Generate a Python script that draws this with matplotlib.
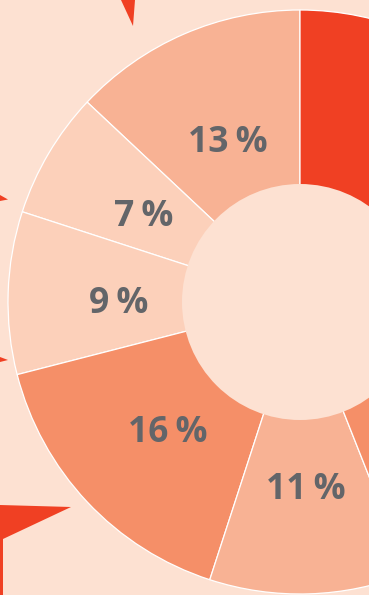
import matplotlib
matplotlib.use("Agg")
import matplotlib.pyplot as plt
from matplotlib.patches import Circle, Polygon
import numpy as np

# Share of each segment (counter-clockwise from 12 o'clock)
shares = [13, 7, 9, 16, 11, 18, 26]
labels = ["13\u2009%", "7\u2009%", "9\u2009%", "16\u2009%", "11\u2009%", "", ""]
colors = ["#f8b294", "#fcd0ba", "#fcd0ba", "#f58f68", "#f8b294", "#f58f68", "#f04023"]

BG = "#fde1d2"
RED = "#f04023"
TEXT = "#636569"

W, H = 369, 595
fig = plt.figure(figsize=(W / 100, H / 100), dpi=100, facecolor=BG)
ax = fig.add_axes([0, 0, 1, 1])

cx, cy = 300, H - 302
r_out, r_in = 292, 118

ax.pie(shares, colors=colors, startangle=90, counterclock=True,
       center=(cx, cy), radius=r_out, frame=True,
       wedgeprops=dict(edgecolor="white", linewidth=0.9))
ax.set_xlim(0, W)
ax.set_ylim(0, H)
ax.set_aspect("equal")
ax.axis("off")

# hole of the donut
ax.add_patch(Circle((cx, cy), r_in, facecolor=BG, edgecolor="none", zorder=3))

# percentage labels
start = 90.0
total = sum(shares)
for s, lab in zip(shares, labels):
    mid = np.deg2rad(start + s / total * 180.0)
    start += s / total * 360.0
    if not lab:
        continue
    rr = 0.62 * r_out
    ax.text(cx + rr * np.cos(mid), cy + rr * np.sin(mid) - 16.5, lab,
            ha="center", va="baseline", fontsize=25.5, fontweight="bold",
            color=TEXT, family=["Open Sans", "DejaVu Sans"], zorder=4)

# decorative red shards around the edges
shards = [
    [(121, H), (135, H), (133, H - 26)],
    [(0, H - 195), (8, H - 199.5), (0, H - 201)],
    [(0, H - 357), (8, H - 360), (0, H - 362)],
    [(0, H - 505), (71, H - 507), (3, H - 539), (3, 0), (0, 0)],
]
for pts in shards:
    ax.add_patch(Polygon(pts, closed=True, facecolor=RED, edgecolor="none", zorder=5))

fig.savefig("out.png", dpi=100, facecolor=BG)
